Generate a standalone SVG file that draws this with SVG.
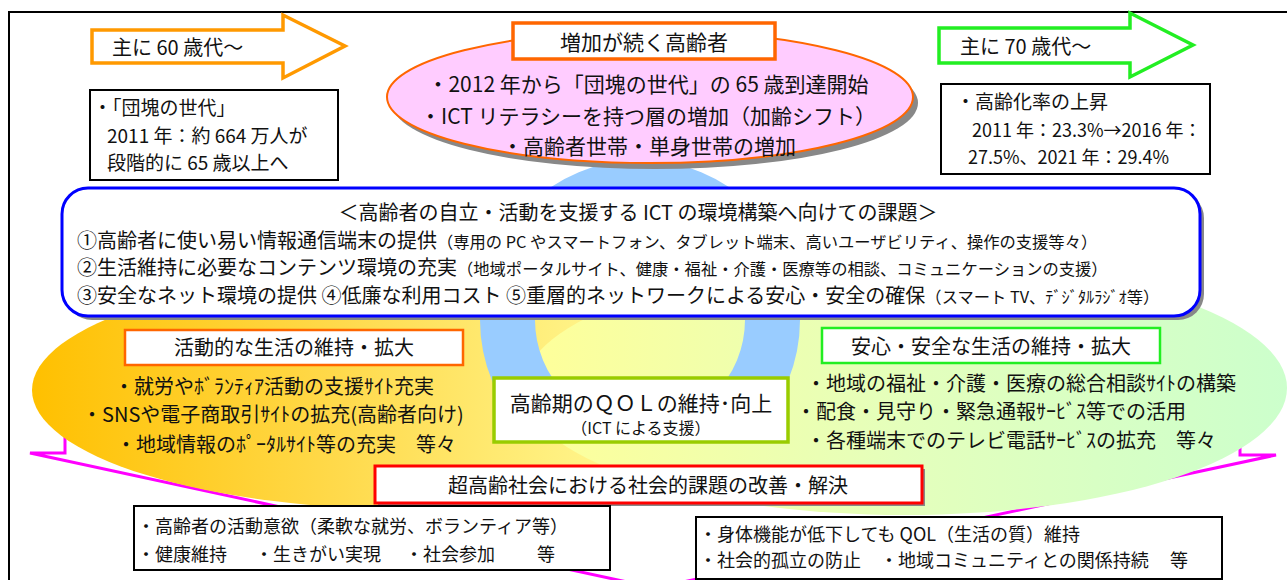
<svg xmlns="http://www.w3.org/2000/svg" width="1287" height="580" viewBox="0 0 1287 580">
<defs>
<style>
text { font-family: "Noto Sans CJK JP", "Noto Sans", sans-serif; fill: #111; }
.box { fill: #fff; stroke: #000; stroke-width: 2; }
.shadow { fill: #888; }
.f18 { font-size: 18px; }
.f19 { font-size: 19px; }
.f20 { font-size: 20px; }
.f21 { font-size: 21px; }
.sm { font-size: 16.3px; }
.mid { text-anchor: middle; }
</style>
<linearGradient id="gY" x1="0" y1="0" x2="1" y2="0">
<stop offset="0" stop-color="#FFC000"/>
<stop offset="0.4" stop-color="#FFDA4C"/>
<stop offset="0.75" stop-color="#FFF68E"/>
<stop offset="1" stop-color="#FFFF99"/>
</linearGradient>
<linearGradient id="gG" x1="0" y1="0" x2="1" y2="0">
<stop offset="0" stop-color="#FFFF99"/>
<stop offset="0.5" stop-color="#E4FFBC"/>
<stop offset="1" stop-color="#CCFFCC"/>
</linearGradient>
<clipPath id="ringClip"><rect x="0" y="0" width="1287" height="440"/></clipPath>
</defs>

<rect x="0" y="0" width="1287" height="580" fill="#fff"/>
<rect x="9" y="12" width="1290" height="590" fill="none" stroke="#000" stroke-width="2"/>

<g id="connectors">
<polygon points="65,400 65,453 30,453 655,588 1276,455 1240,455 1240,400" fill="#fff" stroke="#FF00FF" stroke-width="3"/>
<polygon points="92,30 283,30 283,15 345,46 283,78 283,63 92,63" fill="#fff" stroke="#FF9900" stroke-width="3.5"/>
<polygon points="939,28 1130,28 1130,13 1193,45 1130,77 1130,63 939,63" fill="#fff" stroke="#22EE22" stroke-width="3.5"/>
</g>

<g id="label-60">
<text class="f20" x="112" y="55">主に 60 歳代～</text>
</g>
<g id="label-70">
<text class="f20" x="960" y="54">主に 70 歳代～</text>
</g>

<g id="ellipse-active">
<ellipse cx="420" cy="390" rx="388" ry="120" fill="url(#gY)"/>
</g>
<g id="ellipse-safe">
<ellipse cx="905" cy="388" rx="382" ry="127" fill="url(#gG)"/>
</g>

<g id="ring">
<path clip-path="url(#ringClip)" fill-rule="evenodd" fill="#99CCFF" d="M480,320 a160,160 0 1,0 320,0 a160,160 0 1,0 -320,0 Z M535,320 a105,105 0 1,0 210,0 a105,105 0 1,0 -210,0 Z"/>
</g>

<g id="box-dankai">
<rect class="box" x="90" y="90" width="248" height="90"/>
<text class="f19" x="93" y="115">・「団塊の世代」</text>
<text class="f19" x="107" y="143">2011 年：約 664 万人が</text>
<text class="f19" x="107" y="170">段階的に 65 歳以上へ</text>
</g>

<g id="box-rate">
<rect class="box" x="941" y="84" width="269" height="90"/>
<text class="f19" x="956" y="109">・高齢化率の上昇</text>
<text class="f18" x="972" y="137">2011 年：23.3%→2016 年：</text>
<text class="f18" x="968" y="164">27.5%、2021 年：29.4%</text>
</g>

<g id="ellipse-elderly">
<ellipse cx="655" cy="103" rx="263" ry="66" class="shadow"/>
<ellipse cx="650" cy="97" rx="263" ry="66" fill="#FFCCFF" stroke="#FF6600" stroke-width="2"/>
<rect x="513" y="23" width="262" height="36" fill="#fff" stroke="#FF6600" stroke-width="3.5"/>
<text class="f21 mid" x="644" y="50">増加が続く高齢者</text>
<text class="f21 mid" x="648" y="92">・2012 年から「団塊の世代」の 65 歳到達開始</text>
<text class="f21 mid" x="648" y="124">・ICT リテラシーを持つ層の増加（加齢シフト）</text>
<text class="f21 mid" x="649" y="154">・高齢者世帯・単身世帯の増加</text>
</g>

<g id="box-issues">
<rect x="66" y="192" width="1138" height="128" rx="26" class="shadow"/>
<rect x="62" y="188" width="1138" height="128" rx="26" fill="#fff" stroke="#0000FF" stroke-width="3"/>
<text class="f20 mid" x="638" y="220">＜高齢者の自立・活動を支援する ICT の環境構築へ向けての課題＞</text>
<text class="f20" x="77" y="248">①高齢者に使い易い情報通信端末の提供<tspan class="sm">（専用の PC やスマートフォン、タブレット端末、高いユーザビリティ、操作の支援等々）</tspan></text>
<text class="f20" x="77" y="275">②生活維持に必要なコンテンツ環境の充実<tspan class="sm">（地域ポータルサイト、健康・福祉・介護・医療等の相談、コミュニケーションの支援）</tspan></text>
<text class="f20" x="77" y="303">③安全なネット環境の提供 ④低廉な利用コスト ⑤重層的ネットワークによる安心・安全の確保<tspan class="sm">（スマート TV、ﾃﾞｼﾞﾀﾙﾗｼﾞｵ等）</tspan></text>
</g>

<g id="box-active">
<rect x="125" y="330" width="338" height="35" fill="#fff" stroke="#FF6600" stroke-width="2.5"/>
<text class="f20 mid" x="294" y="355">活動的な生活の維持・拡大</text>
<text class="f20" x="114" y="394">・就労やﾎﾞﾗﾝﾃｨｱ活動の支援ｻｲﾄ充実</text>
<text class="f20" x="82" y="422">・SNSや電子商取引ｻｲﾄの拡充(高齢者向け)</text>
<text class="f20" x="116" y="452">・地域情報のﾎﾟｰﾀﾙｻｲﾄ等の充実　等々</text>
</g>

<g id="box-safe">
<rect x="822" y="328" width="338" height="35" fill="#fff" stroke="#22EE22" stroke-width="2.5"/>
<text class="f20 mid" x="991" y="354">安心・安全な生活の維持・拡大</text>
<text class="f20" x="806" y="391">・地域の福祉・介護・医療の総合相談ｻｲﾄの構築</text>
<text class="f20" x="796" y="419">・配食・見守り・緊急通報ｻｰﾋﾞｽ等での活用</text>
<text class="f20" x="806" y="448">・各種端末でのテレビ電話ｻｰﾋﾞｽの拡充　等々</text>
</g>

<g id="box-qol">
<rect x="494" y="378" width="294" height="64" fill="#fff" stroke="#99CC00" stroke-width="3.5"/>
<text class="f21 mid" x="641" y="411">高齢期のＱＯＬの維持･向上</text>
<text class="mid" style="font-size:16px" x="641" y="434">（ICT による支援）</text>
</g>

<g id="box-society">
<rect x="378" y="469" width="547" height="37" class="shadow"/>
<rect x="375" y="466" width="547" height="37" fill="#fff" stroke="#FF0000" stroke-width="3"/>
<text class="f20 mid" x="648" y="493">超高齢社会における社会的課題の改善・解決</text>
</g>

<g id="box-motivation">
<rect class="box" x="134" y="506" width="476" height="64"/>
<text class="f18" x="137" y="533">・高齢者の活動意欲（柔軟な就労、ボランティア等）</text>
<text class="f18" y="561"><tspan x="137">・健康維持</tspan><tspan x="255">・生きがい実現</tspan><tspan x="405">・社会参加</tspan><tspan x="537">等</tspan></text>
</g>

<g id="box-qol-keep">
<rect class="box" x="696" y="517" width="526" height="62"/>
<text class="f18" x="699" y="541">・身体機能が低下しても QOL（生活の質）維持</text>
<text class="f18" y="567"><tspan x="699">・社会的孤立の防止</tspan><tspan x="880">・地域コミュニティとの関係持続</tspan><tspan x="1170">等</tspan></text>
</g>
</svg>
